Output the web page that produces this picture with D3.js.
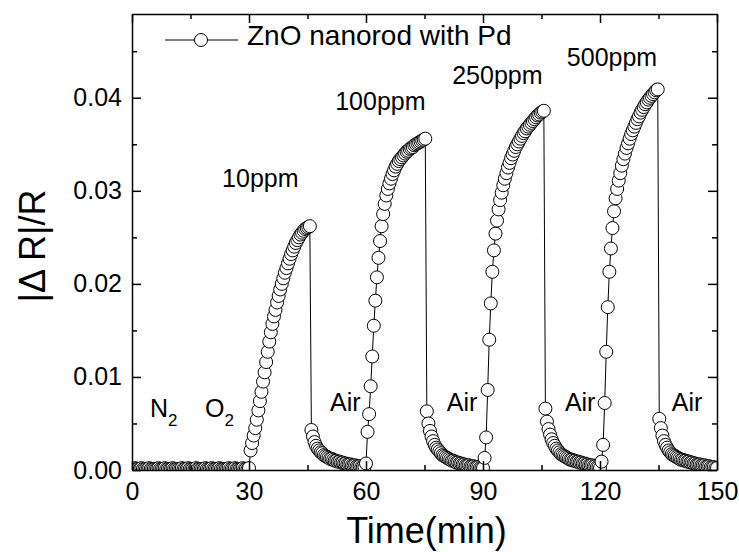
<!DOCTYPE html>
<html>
<head>
<meta charset="utf-8">
<script src="https://cdn.jsdelivr.net/npm/d3@7"></script>
<style>
body { margin: 0; background: #fff; }
svg text { font-family: "Liberation Sans", Arial, sans-serif; fill: #000; }
</style>
</head>
<body>
<svg width="739" height="554"></svg>
<script>
// sampling times (min)
var time = [
  0,0.4,0.8,1.2,1.6,2,2.4,2.8,3.2,3.6,
  4,4.4,4.8,5.2,5.6,6,6.4,6.8,7.2,7.6,
  8,8.4,8.8,9.2,9.6,10,10.4,10.8,11.2,11.6,
  12,12.4,12.8,13.2,13.6,14,14.4,14.8,15.2,15.6,
  16,16.4,16.8,17.2,17.6,18,18.4,18.8,19.2,19.6,
  20,20.4,20.8,21.2,21.6,22,22.4,22.8,23.2,23.6,
  24,24.4,24.8,25.2,25.6,26,26.4,26.8,27.2,27.6,
  28,28.4,28.8,29.2,29.6,30,30.4,30.8,31.2,31.6,
  32,32.4,32.8,33.2,33.6,34,34.4,34.8,35.2,35.6,
  36,36.4,36.8,37.2,37.6,38,38.4,38.8,39.2,39.6,
  40,40.4,40.8,41.2,41.6,42,42.4,42.8,43.2,43.6,
  44,44.4,44.8,45.2,45.6,46,46.4,46.8,47.2,47.6,
  48,48.4,48.8,49.2,49.6,50,50.4,50.8,51.2,51.6,
  52,52.4,52.8,53.2,53.6,54,54.4,54.8,55.2,55.6,
  56,56.4,56.8,57.2,57.6,58,58.4,58.8,59.2,59.6,
  60,60.4,60.8,61.2,61.6,62,62.4,62.8,63.2,63.6,
  64,64.4,64.8,65.2,65.6,66,66.4,66.8,67.2,67.6,
  68,68.4,68.8,69.2,69.6,70,70.4,70.8,71.2,71.6,
  72,72.4,72.8,73.2,73.6,74,74.4,74.8,75.2,75.6,
  76,76.4,76.8,77.2,77.6,78,78.4,78.8,79.2,79.6,
  80,80.4,80.8,81.2,81.6,82,82.4,82.8,83.2,83.6,
  84,84.4,84.8,85.2,85.6,86,86.4,86.8,87.2,87.6,
  88,88.4,88.8,89.2,89.6,90,90.4,90.8,91.2,91.6,
  92,92.4,92.8,93.2,93.6,94,94.4,94.8,95.2,95.6,
  96,96.4,96.8,97.2,97.6,98,98.4,98.8,99.2,99.6,
  100,100.4,100.8,101.2,101.6,102,102.4,102.8,103.2,103.6,
  104,104.4,104.8,105.2,105.6,106,106.4,106.8,107.2,107.6,
  108,108.4,108.8,109.2,109.6,110,110.4,110.8,111.2,111.6,
  112,112.4,112.8,113.2,113.6,114,114.4,114.8,115.2,115.6,
  116,116.4,116.8,117.2,117.6,118,118.4,118.8,119.2,119.6,
  120,120.4,120.8,121.2,121.6,122,122.4,122.8,123.2,123.6,
  124,124.4,124.8,125.2,125.6,126,126.4,126.8,127.2,127.6,
  128,128.4,128.8,129.2,129.6,130,130.4,130.8,131.2,131.6,
  132,132.4,132.8,133.2,133.6,134,134.4,134.8,135.2,135.6,
  136,136.4,136.8,137.2,137.6,138,138.4,138.8,139.2,139.6,
  140,140.4,140.8,141.2,141.6,142,142.4,142.8,143.2,143.6,
  144,144.4,144.8,145.2,145.6,146,146.4,146.8,147.2,147.6,
  148,148.4,148.8,149.2,149.6,150
];

// |dR|/R, one array per stage (N2 / O2 up to 30 min incl.)
var n2o2 = [
  0.0001,0.0001,0.0002,0.0001,0.0001,0.0001,0.0002,0.0001,0.0001,0.0001,0.0001,0.0002,0.0001,0.0001,0.0001,
  0.0001,0.0001,0.0002,0.0001,0.0001,0.0001,0.0002,0.0001,0.0001,0.0001,0.0001,0.0002,0.0001,0.0001,0.0001,
  0.0001,0.0001,0.0002,0.0001,0.0001,0.0001,0.0002,0.0001,0.0001,0.0001,0.0001,0.0002,0.0001,0.0001,0.0001,
  0.0001,0.0001,0.0002,0.0001,0.0001,0.0001,0.0002,0.0001,0.0001,0.0001,0.0001,0.0002,0.0001,0.0001,0.0001,
  0.0001,0.0001,0.0002,0.0001,0.0001,0.0001,0.0002,0.0001,0.0001,0.0001,0.0001,0.0002,0.0001,0.0001,0.0001,
  0.0002
];
var rise10 = [
  0.0021,0.0029,0.0037,0.0045,0.0054,0.0064,0.0074,0.0084,0.0095,0.0105,
  0.0116,0.0127,0.0138,0.0148,0.0157,0.0165,0.0172,0.0180,0.0187,0.0194,
  0.0200,0.0206,0.0212,0.0217,0.0222,0.0227,0.0232,0.0236,0.0240,0.0244,
  0.0247,0.0250,0.0253,0.0255,0.0257,0.0259,0.0260,0.0261,0.0262
];
var air10 = [
  0.0043,0.0036,0.0030,0.0026,0.0023,0.0021,0.0019,0.0018,0.0016,0.0015,
  0.0014,0.0013,0.0012,0.0012,0.0011,0.0010,0.0010,0.0009,0.0009,0.0008,
  0.0008,0.0007,0.0007,0.0006,0.0006,0.0006,0.0005,0.0005,0.0005,0.0004,
  0.0004,0.0004,0.0003,0.0003,0.0003
];
var rise100 = [
  0.0007,
  0.0041,0.0060,0.0090,0.0122,0.0155,0.0182,0.0207,0.0228,0.0246,0.0262,
  0.0275,0.0286,0.0295,0.0302,0.0308,0.0313,0.0318,0.0322,0.0326,0.0329,
  0.0332,0.0334,0.0336,0.0338,0.0340,0.0342,0.0343,0.0345,0.0346,0.0347,
  0.0349,0.0350,0.0351,0.0352,0.0353,0.0354,0.0355,0.0356
];
var air100 = [
  0.0063,0.0050,0.0042,0.0036,0.0031,0.0027,0.0024,0.0022,0.0020,0.0018,
  0.0016,0.0015,0.0014,0.0013,0.0012,0.0011,0.0010,0.0010,0.0009,0.0008,
  0.0008,0.0007,0.0007,0.0006,0.0006,0.0005,0.0005,0.0005,0.0004,0.0004,
  0.0004,0.0003,0.0003,0.0003,0.0002,0.0002,0.0002
];
var rise250 = [
  0.0013,0.0035,0.0086,0.0140,0.0179,0.0213,0.0236,0.0254,0.0268,0.0280,
  0.0290,0.0298,0.0306,0.0313,0.0319,0.0325,0.0330,0.0335,0.0339,0.0343,
  0.0347,0.0350,0.0353,0.0356,0.0359,0.0362,0.0364,0.0367,0.0369,0.0371,
  0.0373,0.0375,0.0377,0.0379,0.0381,0.0382,0.0384,0.0385,0.0386
];
var air250 = [
  0.0066,0.0052,0.0044,0.0038,0.0033,0.0029,0.0026,0.0023,0.0021,0.0019,
  0.0017,0.0016,0.0015,0.0014,0.0013,0.0012,0.0011,0.0011,0.0010,0.0010,
  0.0009,0.0009,0.0008,0.0008,0.0007,0.0007,0.0006,0.0006,0.0005,0.0005,
  0.0005,0.0004,0.0004,0.0003,0.0003,0.0002
];
var rise500 = [
  0.0009,0.0027,0.0072,0.0127,0.0175,0.0213,0.0238,0.0260,0.0278,0.0292,
  0.0302,0.0311,0.0319,0.0327,0.0334,0.0340,0.0346,0.0351,0.0356,0.0361,
  0.0365,0.0369,0.0373,0.0377,0.0380,0.0384,0.0387,0.0390,0.0393,0.0395,
  0.0398,0.0400,0.0402,0.0404,0.0406,0.0408,0.0409
];
var air500 = [
  0.0055,0.0045,0.0037,0.0031,0.0027,0.0024,0.0021,0.0019,0.0017,0.0016,
  0.0015,0.0014,0.0013,0.0012,0.0011,0.0011,0.0010,0.0010,0.0009,0.0009,
  0.0008,0.0008,0.0007,0.0007,0.0006,0.0006,0.0006,0.0005,0.0005,0.0005,
  0.0004,0.0004,0.0004,0.0003,0.0003,0.0003,0.0002,0.0002
];

var xTicks = [0, 30, 60, 90, 120, 150];
var yTicks = [0, 0.01, 0.02, 0.03, 0.04];

// text notes placed in data units
var notes = [
  { t: 23.1, v: 0.0304, text: "10ppm" },
  { t: 52.1, v: 0.0387, text: "100ppm" },
  { t: 82.1, v: 0.0415, text: "250ppm" },
  { t: 111.5, v: 0.0434, text: "500ppm" },
  { t: 50.8, v: 0.0063, text: "Air" },
  { t: 80.7, v: 0.0063, text: "Air" },
  { t: 111.0, v: 0.0063, text: "Air" },
  { t: 138.4, v: 0.0063, text: "Air" }
];
var gasNotes = [
  { t: 4.6, v: 0.0057, base: "N", sub: "2" },
  { t: 18.7, v: 0.0057, base: "O", sub: "2" }
];

var response = n2o2.concat(rise10, air10, rise100, air100, rise250, air250, rise500, air500);
var data = time.map(function (t, i) { return { t: t, v: response[i] }; });

var margin = { top: 14, right: 22, bottom: 84, left: 132 };
var width = 739 - margin.left - margin.right;
var height = 554 - margin.top - margin.bottom;

var svg = d3.select("svg");
var g = svg.append("g")
    .attr("transform", "translate(" + margin.left + "," + margin.top + ")");

var x = d3.scaleLinear().domain([0, 150]).range([0, width]);
var y = d3.scaleLinear().domain([0, 0.049]).range([height, 0]);

g.append("clipPath").attr("id", "clip")
  .append("rect").attr("width", width).attr("height", height);

// line + open circles
var line = d3.line()
    .x(function (d) { return x(d.t); })
    .y(function (d) { return y(d.v); });

var plot = g.append("g").attr("clip-path", "url(#clip)");
plot.append("path")
    .datum(data)
    .attr("fill", "none")
    .attr("stroke", "#000")
    .attr("stroke-width", 1)
    .attr("d", line);
plot.selectAll("circle")
    .data(data)
    .enter().append("circle")
    .attr("cx", function (d) { return x(d.t); })
    .attr("cy", function (d) { return y(d.v); })
    .attr("r", 6.5)
    .attr("fill", "#fff")
    .attr("stroke", "#000")
    .attr("stroke-width", 1);

// axes, ticks pointing inward on all four sides
var xMinor = d3.range(15, 150, 30);
var yMinor = [0.005, 0.015, 0.025, 0.035, 0.045];

function styleAxis(sel) {
  sel.selectAll("path.domain").attr("stroke-width", 1.5);
  sel.selectAll(".tick line").attr("stroke-width", 1.5);
  sel.selectAll("text").style("font-size", "25px").attr("font-family", null);
}

g.append("g").attr("transform", "translate(0," + height + ")")
  .call(d3.axisBottom(x).tickValues(xTicks).tickSize(-9).tickSizeOuter(0).tickPadding(12))
  .call(styleAxis);
g.append("g").attr("transform", "translate(0," + height + ")")
  .call(d3.axisBottom(x).tickValues(xMinor).tickSize(-5).tickFormat(""))
  .call(function (s) { s.select(".domain").remove(); s.selectAll("line").attr("stroke-width", 1.5); });
g.append("g")
  .call(d3.axisTop(x).tickValues(xTicks).tickSize(-9).tickSizeOuter(0).tickFormat(""))
  .call(styleAxis);
g.append("g")
  .call(d3.axisTop(x).tickValues(xMinor).tickSize(-5).tickFormat(""))
  .call(function (s) { s.select(".domain").remove(); s.selectAll("line").attr("stroke-width", 1.5); });

g.append("g")
  .call(d3.axisLeft(y).tickValues(yTicks).tickSize(-9).tickSizeOuter(0).tickPadding(10).tickFormat(d3.format(".2f")))
  .call(styleAxis);
g.append("g")
  .call(d3.axisLeft(y).tickValues(yMinor).tickSize(-5).tickFormat(""))
  .call(function (s) { s.select(".domain").remove(); s.selectAll("line").attr("stroke-width", 1.5); });
g.append("g").attr("transform", "translate(" + width + ",0)")
  .call(d3.axisRight(y).tickValues(yTicks).tickSize(-9).tickSizeOuter(0).tickFormat(""))
  .call(styleAxis);
g.append("g").attr("transform", "translate(" + width + ",0)")
  .call(d3.axisRight(y).tickValues(yMinor).tickSize(-5).tickFormat(""))
  .call(function (s) { s.select(".domain").remove(); s.selectAll("line").attr("stroke-width", 1.5); });

// axis titles
svg.append("text")
    .attr("x", margin.left + width / 2 + 2)
    .attr("y", 543)
    .attr("text-anchor", "middle")
    .style("font-size", "36px")
    .text("Time(min)");
svg.append("text")
    .attr("transform", "translate(45," + (margin.top + height / 2 + 4) + ") rotate(-90)")
    .attr("text-anchor", "middle")
    .style("font-size", "36px")
    .text("|\u0394 R|/R");

// annotations
g.selectAll(".note")
  .data(notes)
  .enter().append("text")
    .attr("class", "note")
    .attr("x", function (d) { return x(d.t); })
    .attr("y", function (d) { return y(d.v); })
    .style("font-size", "25px")
    .text(function (d) { return d.text; });

var gas = g.selectAll(".gas")
  .data(gasNotes)
  .enter().append("text")
    .attr("class", "gas")
    .attr("x", function (d) { return x(d.t); })
    .attr("y", function (d) { return y(d.v); })
    .style("font-size", "25px");
gas.append("tspan").text(function (d) { return d.base; });
gas.append("tspan").attr("dy", 9).style("font-size", "17px").text(function (d) { return d.sub; });

// legend
var legend = svg.append("g").attr("transform", "translate(165,40)");
legend.append("line").attr("x1", 0).attr("x2", 73).attr("stroke", "#000").attr("stroke-width", 1);
legend.append("circle").attr("cx", 36).attr("r", 6.5).attr("fill", "#fff").attr("stroke", "#000");
legend.append("text").attr("x", 82).attr("y", 5).style("font-size", "28px").text("ZnO nanorod with Pd");
</script>
</body>
</html>
